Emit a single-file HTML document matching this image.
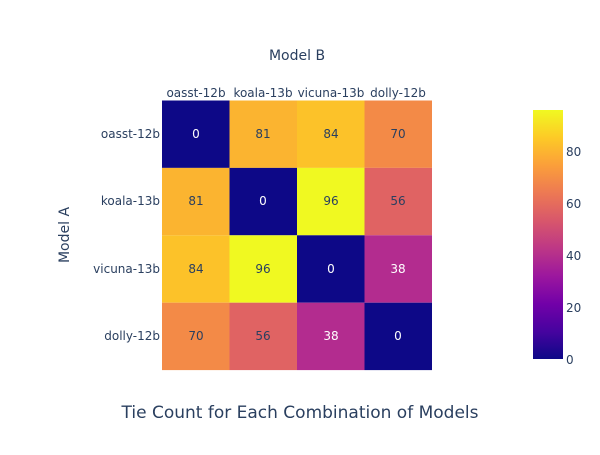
<!DOCTYPE html>
<html><head><meta charset="utf-8"><style>
html,body{margin:0;padding:0;background:#fff;}
svg text{font-family:"DejaVu Sans",sans-serif;fill:#2a3f5f;}
</style></head><body>
<svg width="600" height="450" xmlns="http://www.w3.org/2000/svg">
<defs>
<linearGradient id="pl" x1="0" y1="1" x2="0" y2="0">
<stop offset="0" stop-color="#0d0887"/>
<stop offset="0.111" stop-color="#46039f"/>
<stop offset="0.222" stop-color="#7201a8"/>
<stop offset="0.333" stop-color="#9c179e"/>
<stop offset="0.444" stop-color="#bd3786"/>
<stop offset="0.556" stop-color="#d8576b"/>
<stop offset="0.667" stop-color="#ed7953"/>
<stop offset="0.778" stop-color="#fb9f3a"/>
<stop offset="0.889" stop-color="#fdca26"/>
<stop offset="1" stop-color="#f0f921"/>
</linearGradient>
</defs>
<g>
<rect x="162" y="100.5" width="67.5" height="67.4" fill="#0d0887"/>
<rect x="229.5" y="100.5" width="67.5" height="67.4" fill="#fbb430"/>
<rect x="297" y="100.5" width="67.5" height="67.4" fill="#fcc229"/>
<rect x="364.5" y="100.5" width="67.5" height="67.4" fill="#f38a47"/>
<rect x="162" y="167.9" width="67.5" height="67.4" fill="#fbb430"/>
<rect x="229.5" y="167.9" width="67.5" height="67.4" fill="#0d0887"/>
<rect x="297" y="167.9" width="67.5" height="67.4" fill="#f0f921"/>
<rect x="364.5" y="167.9" width="67.5" height="67.4" fill="#e06363"/>
<rect x="162" y="235.3" width="67.5" height="67.4" fill="#fcc229"/>
<rect x="229.5" y="235.3" width="67.5" height="67.4" fill="#f0f921"/>
<rect x="297" y="235.3" width="67.5" height="67.4" fill="#0d0887"/>
<rect x="364.5" y="235.3" width="67.5" height="67.4" fill="#b32c8f"/>
<rect x="162" y="302.7" width="67.5" height="67.4" fill="#f38a47"/>
<rect x="229.5" y="302.7" width="67.5" height="67.4" fill="#e06363"/>
<rect x="297" y="302.7" width="67.5" height="67.4" fill="#b32c8f"/>
<rect x="364.5" y="302.7" width="67.5" height="67.4" fill="#0d0887"/>
</g>
<g font-size="12" text-anchor="middle">
<text x="196" y="138" style="fill:#fff">0</text>
<text x="263" y="138">81</text>
<text x="331" y="138">84</text>
<text x="398" y="138">70</text>
<text x="196" y="205">81</text>
<text x="263" y="205" style="fill:#fff">0</text>
<text x="331" y="205">96</text>
<text x="398" y="205">56</text>
<text x="196" y="273">84</text>
<text x="263" y="273">96</text>
<text x="331" y="273" style="fill:#fff">0</text>
<text x="398" y="273" style="fill:#fff">38</text>
<text x="196" y="340">70</text>
<text x="263" y="340">56</text>
<text x="331" y="340" style="fill:#fff">38</text>
<text x="398" y="340" style="fill:#fff">0</text>
</g>
<g font-size="12" text-anchor="middle">
<text x="196" y="97">oasst-12b</text>
<text x="263" y="97">koala-13b</text>
<text x="331" y="97">vicuna-13b</text>
<text x="398" y="97">dolly-12b</text>
</g>
<g font-size="12" text-anchor="end">
<text x="160" y="138">oasst-12b</text>
<text x="160" y="205">koala-13b</text>
<text x="160" y="273">vicuna-13b</text>
<text x="160" y="340">dolly-12b</text>
</g>
<text x="297" y="60" font-size="14" text-anchor="middle">Model B</text>
<text x="69" y="235" font-size="14" text-anchor="middle" transform="rotate(-90 69 235)">Model A</text>
<text x="300" y="418" font-size="17" text-anchor="middle">Tie Count for Each Combination of Models</text>
<rect x="533" y="110" width="30" height="249" fill="url(#pl)"/>
<g font-size="12">
<text x="566" y="364">0</text>
<text x="566" y="312">20</text>
<text x="566" y="260">40</text>
<text x="566" y="208">60</text>
<text x="566" y="156">80</text>
</g>
</svg>
</body></html>
